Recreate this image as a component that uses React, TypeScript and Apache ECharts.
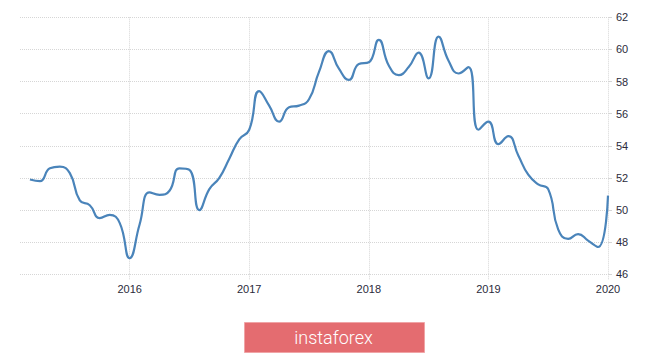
import React, { useEffect, useRef } from "react";
import * as echarts from "echarts";

const months: string[] = [
  "2015-03", "2015-04", "2015-05", "2015-06", "2015-07", "2015-08", "2015-09", "2015-10", "2015-11", "2015-12",
  "2016-01", "2016-02", "2016-03", "2016-04", "2016-05", "2016-06", "2016-07", "2016-08", "2016-09", "2016-10", "2016-11", "2016-12",
  "2017-01", "2017-02", "2017-03", "2017-04", "2017-05", "2017-06", "2017-07", "2017-08", "2017-09", "2017-10", "2017-11", "2017-12",
  "2018-01", "2018-02", "2018-03", "2018-04", "2018-05", "2018-06", "2018-07", "2018-08", "2018-09", "2018-10", "2018-11", "2018-12",
  "2019-01", "2019-02", "2019-03", "2019-04", "2019-05", "2019-06", "2019-07", "2019-08", "2019-09", "2019-10", "2019-11", "2019-12",
  "2020-01",
];

const values: number[] = [
  51.9, 51.8, 52.6, 52.7, 52.3, 50.6, 50.3, 49.5, 49.7, 49.2,
  47.0, 49.1, 51.1, 50.95, 51.2, 52.6, 52.5, 50.0, 51.3, 52.0, 53.2, 54.4,
  55.0, 57.4, 56.5, 55.5, 56.4, 56.5, 56.9, 58.6, 59.9, 58.8, 58.1, 59.1,
  59.2, 60.6, 59.0, 58.4, 58.9, 59.8, 58.2, 60.8, 59.3, 58.5, 58.9, 55.0,
  55.5, 54.1, 54.6, 53.4, 52.2, 51.6, 51.3, 48.8, 48.2, 48.5, 48.1, 47.7,
  50.9,
];

const yearTicks: number[] = [2016, 2017, 2018, 2019, 2020];
const watermark = "instaforex";

function toYear(m: string): number {
  const [y, mo] = m.split("-").map(Number);
  return y + (mo - 1) / 12;
}

export default function App() {
  const ref = useRef<HTMLDivElement>(null);

  useEffect(() => {
    if (!ref.current) return;
    const chart = echarts.init(ref.current, undefined, { renderer: "svg" });
    const data = months.map((m, i) => [toYear(m), values[i]]);
    const gridColor = "#d6d6d6";
    chart.setOption({
      animation: false,
      backgroundColor: "#ffffff",
      grid: { left: 20, right: 57, top: 17.3, bottom: 78.7 },
      xAxis: {
        type: "value",
        min: 2015 + 1 / 12,
        max: 2020,
        axisLine: { show: false },
        axisTick: {
          show: true,
          customValues: yearTicks,
          length: 5,
          lineStyle: { color: gridColor, type: "dotted" },
        },
        axisLabel: {
          customValues: yearTicks,
          formatter: (v: number) => String(Math.round(v)),
          color: "#2b2b3b",
          fontSize: 11,
          fontFamily: "Liberation Sans",
          margin: 9,
        },
        splitLine: { show: true, lineStyle: { color: gridColor, type: "dotted", width: 1 } },
      },
      yAxis: {
        type: "value",
        position: "right",
        min: 46,
        max: 62,
        interval: 2,
        axisLine: { show: false },
        axisTick: { show: true, length: 4, lineStyle: { color: gridColor } },
        axisLabel: {
          color: "#2b2b3b",
          fontSize: 11,
          fontFamily: "Liberation Sans",
          margin: 8,
        },
        splitLine: { show: true, lineStyle: { color: gridColor, type: "dotted", width: 1 } },
      },
      series: [
        {
          type: "line",
          data,
          smooth: 0.5,
          symbol: "none",
          lineStyle: { color: "#4a84ba", width: 2.2 },
        },
      ],
      graphic: [
        {
          type: "group",
          left: 244,
          top: 322,
          children: [
            {
              type: "rect",
              shape: { x: 0, y: 0, width: 180, height: 30 },
              style: { fill: "#e46c70", stroke: "#f0a4a6", lineWidth: 1 },
            },
            {
              type: "text",
              x: 89,
              y: 15,
              style: {
                text: watermark,
                fill: "#ffffff",
                fontSize: 18,
                fontFamily: "Roboto",
                fontWeight: 300,
                align: "center",
                verticalAlign: "middle",
              },
            },
          ],
        },
      ],
    });
    return () => chart.dispose();
  }, []);

  return (
    <div
      ref={ref}
      style={{ position: "absolute", left: 0, top: 0, width: 665, height: 353, background: "#fff" }}
    />
  );
}
